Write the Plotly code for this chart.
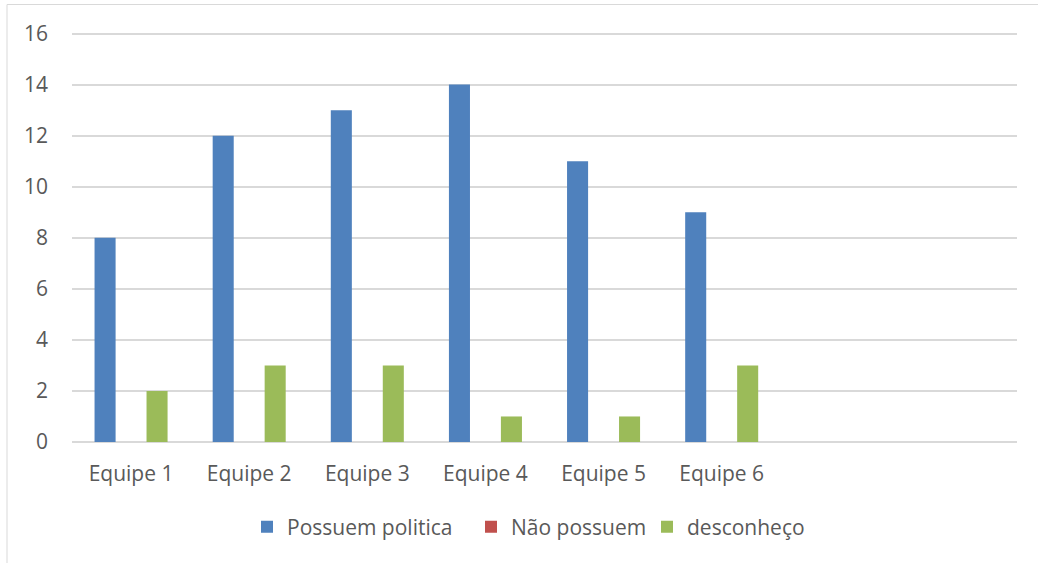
import plotly.graph_objects as go

categories = ["Equipe 1", "Equipe 2", "Equipe 3", "Equipe 4", "Equipe 5", "Equipe 6", " ", "  "]
series_names = ["Possuem politica", "Não possuem", "desconheço"]
possuem = [8, 12, 13, 14, 11, 9]
nao_possuem = [0, 0, 0, 0, 0, 0]
desconheco = [2, 3, 3, 1, 1, 3]
y_ticks = [0, 2, 4, 6, 8, 10, 12, 14, 16]

colors = ["#4F81BD", "#C0504D", "#9BBB59"]
FONT = "Open Sans"
TXT = "#595959"
FS = 21

W, H = 1038, 563
YMAX = 16.1
L, R, B = 72, 1017, 442
T = 34 - (YMAX - 16) * (442 - 34) / 16

pw, ph = R - L, B - T
def px(x):
    return (x - L) / pw
def py(y):
    return (B - y) / ph

legend_ids = ["legend", "legend2", "legend3"]
legend_x = [247, 471, 647]

fig = go.Figure()
for name, vals, c, lid in zip(series_names, [possuem, nao_possuem, desconheco], colors, legend_ids):
    fig.add_trace(go.Bar(x=categories[:len(vals)], y=vals, name=name, legend=lid,
                         marker=dict(color=c, line=dict(width=0))))

legends = {}
for lid, lx in zip(legend_ids, legend_x):
    legends[lid] = dict(orientation="h", x=px(lx), xanchor="left", y=py(527), yanchor="middle",
                        font=dict(family=FONT, size=FS, color=TXT), itemclick=False,
                        bgcolor="rgba(0,0,0,0)")

fig.update_layout(
    width=W, height=H,
    margin=dict(l=L, r=W - R, t=T, b=H - B, autoexpand=False),
    paper_bgcolor="white", plot_bgcolor="white",
    barmode="group", bargap=0.34, bargroupgap=0.19,
    font=dict(family=FONT, size=FS, color=TXT),
    showlegend=True,
    xaxis=dict(type="category", categoryorder="array", categoryarray=categories,
               range=[-0.5, len(categories) - 0.5], showgrid=False, showline=False,
               ticks="", ticklabelstandoff=17, tickfont=dict(size=FS, color=TXT), fixedrange=True),
    yaxis=dict(range=[0, YMAX], tickvals=y_ticks, showgrid=True, gridcolor="#D9D9D9", gridwidth=1.5,
               zeroline=True, zerolinecolor="#D9D9D9", zerolinewidth=1.5, showline=False,
               ticks="", ticklabelstandoff=23, tickfont=dict(size=FS, color=TXT), fixedrange=True),
    shapes=[dict(type="rect", xref="paper", yref="paper", x0=px(7), x1=px(1060), y0=py(580), y1=py(5),
                 line=dict(color="#D9D9D9", width=1), fillcolor="rgba(0,0,0,0)", layer="below")],
    **legends,
)

fig.write_html("out.html", config={"displayModeBar": False},
               post_script="document.body.style.margin='0';document.body.style.overflow='hidden';")
